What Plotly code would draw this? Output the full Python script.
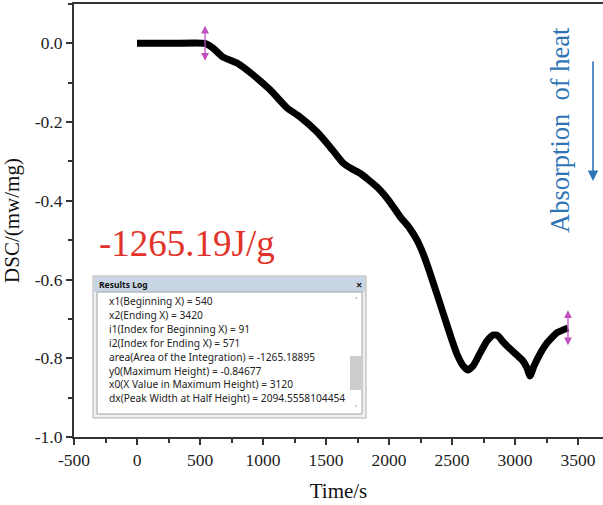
import plotly.graph_objects as go

# ---- data ----
time_s = [0, 270, 540, 603, 683, 794, 921, 1056, 1190, 1294, 1429, 1532, 1635, 1700, 1770, 1905,
          2000, 2087, 2160, 2222, 2275, 2325, 2429, 2490, 2540, 2590, 2627, 2670, 2722, 2775, 2825,
          2860, 2910, 2960, 3063, 3095, 3119, 3150, 3198, 3254, 3333, 3421]
dsc = [0.0, 0.0, 0.0, -0.012, -0.035, -0.050, -0.080, -0.118, -0.164, -0.187, -0.225, -0.263,
       -0.304, -0.318, -0.330, -0.365, -0.400, -0.440, -0.468, -0.500, -0.538, -0.583, -0.685,
       -0.745, -0.790, -0.820, -0.830, -0.818, -0.787, -0.757, -0.741, -0.742, -0.760, -0.776,
       -0.807, -0.825, -0.845, -0.820, -0.789, -0.761, -0.735, -0.723]

x_ticks = [-500, 0, 500, 1000, 1500, 2000, 2500, 3000, 3500]
y_ticks = [0.0, -0.2, -0.4, -0.6, -0.8, -1.0]
marker_x = [540, 3420]
marker_y = [0.0, -0.723]

log_lines = [
    "x1(Beginning X) = 540",
    "x2(Ending X) = 3420",
    "i1(Index for Beginning X) = 91",
    "i2(Index for Ending X) = 571",
    "area(Area of the Integration) = -1265.18895",
    "y0(Maximum Height) = -0.84677",
    "x0(X Value in Maximum Height) = 3120",
    "dx(Peak Width at Half Height) = 2094.5558104454",
]

W, H = 603, 505
L, R, T, B = 74, 0, 4, 68
PW, PH = W - L - R, H - T - B

def px(xp):
    return (xp - L) / PW

def py(yp):
    return (H - B - yp) / PH

serif = "Liberation Serif, Times New Roman, serif"
sans = "Noto Sans, Open Sans, sans-serif"

fig = go.Figure()
fig.add_trace(go.Scatter(x=time_s, y=dsc, mode="lines",
                         line=dict(color="black", width=7, shape="spline", smoothing=0.5),
                         hoverinfo="skip", showlegend=False))

annotations = []
shapes = []

# magenta double-headed markers
for mx, my in zip(marker_x, marker_y):
    annotations.append(dict(x=mx, y=my + 0.045, ax=mx, ay=my - 0.048, xref="x", yref="y",
                            axref="x", ayref="y", text="", showarrow=True,
                            arrowhead=2, arrowside="end+start", arrowsize=1.2,
                            arrowwidth=1.3, arrowcolor="#c050c0"))

# red enthalpy label
annotations.append(dict(x=px(97), y=py(243), xref="paper", yref="paper",
                        text="-1265.19J/g", showarrow=False, xanchor="left", yanchor="middle",
                        font=dict(family=serif, size=37, color="#e2332b")))

# absorption of heat label
annotations.append(dict(x=px(560), y=py(130), xref="paper", yref="paper",
                        text="Absorption&nbsp;&nbsp;of heat", showarrow=False, textangle=-90,
                        xanchor="center", yanchor="middle",
                        font=dict(family=serif, size=26.5, color="#2e75b6")))
annotations.append(dict(x=px(593), y=py(181), ax=0, ay=-121, xref="paper", yref="paper",
                        text="", showarrow=True,
                        arrowhead=2, arrowsize=1.3, arrowwidth=1.6, arrowcolor="#2e75b6"))

# Results Log box
bx0, bx1, by0, by1 = 93, 366, 276, 418
shapes.append(dict(type="rect", xref="paper", yref="paper", x0=px(bx0), x1=px(bx1),
                   y0=py(by1), y1=py(by0), fillcolor="#f0f0f0",
                   line=dict(color="#b0b0b0", width=1)))
shapes.append(dict(type="rect", xref="paper", yref="paper", x0=px(bx0 + 1), x1=px(bx1 - 1),
                   y0=py(292), y1=py(by0 + 1), fillcolor="#c8d5e4", line=dict(width=0)))
shapes.append(dict(type="rect", xref="paper", yref="paper", x0=px(97), x1=px(362),
                   y0=py(414), y1=py(292), fillcolor="white",
                   line=dict(color="#a0a0a0", width=1)))
# scrollbar
shapes.append(dict(type="rect", xref="paper", yref="paper", x0=px(350), x1=px(361),
                   y0=py(390), y1=py(356), fillcolor="#cdcdcd", line=dict(width=0)))
annotations.append(dict(x=px(97), y=py(284), xref="paper", yref="paper", text="<b>Results Log</b>",
                        showarrow=False, xanchor="left", yanchor="middle",
                        font=dict(family=sans, size=8.5, color="#111")))
annotations.append(dict(x=px(359), y=py(284), xref="paper", yref="paper", text="<b>×</b>",
                        showarrow=False, xanchor="center", yanchor="middle",
                        font=dict(family=sans, size=11, color="#222")))
annotations.append(dict(x=px(356), y=py(300), xref="paper", yref="paper", text="˄",
                        showarrow=False, xanchor="center", yanchor="middle",
                        font=dict(family=sans, size=9, color="#666")))
annotations.append(dict(x=px(356), y=py(408), xref="paper", yref="paper", text="˅",
                        showarrow=False, xanchor="center", yanchor="middle",
                        font=dict(family=sans, size=8, color="#666")))
for i, line in enumerate(log_lines):
    annotations.append(dict(x=px(107), y=py(301 + i * 13.9), xref="paper", yref="paper",
                            text=line, showarrow=False, xanchor="left", yanchor="middle",
                            font=dict(family=sans, size=10.2, color="#222")))

axis_common = dict(showline=True, linecolor="#333", linewidth=2, ticks="outside",
                   tickcolor="#333", tickwidth=1.5, ticklen=6, showgrid=False, zeroline=False,
                   tickfont=dict(family=serif, size=17.5, color="#222"))

fig.update_layout(
    width=W, height=H,
    margin=dict(l=L, r=R, t=T, b=B),
    paper_bgcolor="white", plot_bgcolor="white",
    xaxis=dict(range=[-500, 3698], tickvals=x_ticks, ticktext=[str(v) for v in x_ticks],
               mirror=True,
               minor=dict(ticks="outside", ticklen=4, tickcolor="#333", tickwidth=1.5,
                          dtick=250, showgrid=False),
               title=dict(text="Time/s", font=dict(family=serif, size=21, color="#111"),
                          standoff=14),
               **axis_common),
    yaxis=dict(range=[-1.0, 0.1], tickvals=y_ticks, ticktext=[f"{v:.1f}" for v in y_ticks],
               minor=dict(ticks="outside", ticklen=4, tickcolor="#333", tickwidth=1.5,
                          dtick=0.1, showgrid=False),
               title=dict(text="DSC/(mw/mg)", font=dict(family=serif, size=21, color="#111"),
                          standoff=10),
               **axis_common),
    annotations=annotations,
    shapes=shapes,
)

fig.write_html("out.html")
